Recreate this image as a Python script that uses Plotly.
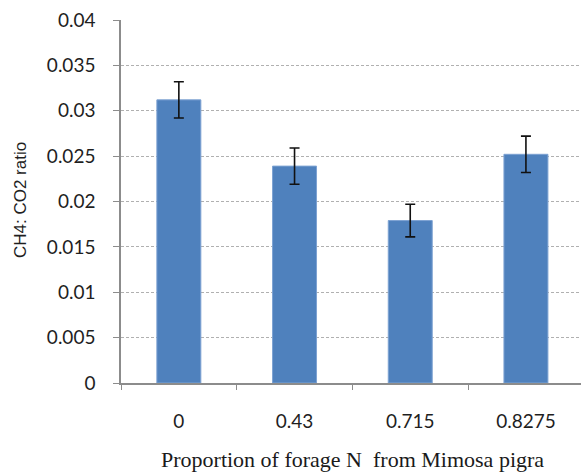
import plotly.graph_objects as go

# Methane to CO2 ratio by proportion of forage N supplied by Mimosa pigra
categories = ["0", "0.43", "0.715", "0.8275"]
ratio_mean = [0.0312, 0.0239, 0.0179, 0.0252]
ratio_err = [0.0020, 0.0020, 0.0018, 0.0020]
y_ticks = [0, 0.005, 0.01, 0.015, 0.02, 0.025, 0.03, 0.035, 0.04]
y_tick_text = ["0", "0.005", "0.01", "0.015", "0.02", "0.025", "0.03", "0.035", "0.04"]

fig = go.Figure(
    go.Bar(
        x=categories,
        y=ratio_mean,
        width=0.38,
        marker=dict(color="#4F81BD", line=dict(color="#7DA2D2", width=1)),
        error_y=dict(type="data", array=ratio_err, visible=True,
                     color="#111111", thickness=1.6, width=5),
    )
)

tick_font = dict(family="Lato, Open Sans, sans-serif", size=19, color="#1f1f1f")

fig.update_layout(
    width=581,
    height=473,
    margin=dict(l=121, r=0, t=20, b=90),
    paper_bgcolor="white",
    plot_bgcolor="white",
    showlegend=False,
    xaxis=dict(
        type="category",
        range=[-0.5, 3.476],
        showgrid=False,
        showline=True,
        linecolor="#8c8c8c",
        linewidth=1.5,
        ticks="outside",
        tickson="boundaries",
        ticklen=5,
        tickcolor="#8c8c8c",
        tickfont=tick_font,
        ticklabelstandoff=20,
        fixedrange=True,
    ),
    yaxis=dict(
        range=[0, 0.04],
        tickvals=y_ticks,
        ticktext=y_tick_text,
        showgrid=True,
        gridcolor="#b0b0b0",
        griddash="3px,2px",
        gridwidth=1,
        showline=True,
        linecolor="#8c8c8c",
        linewidth=1.5,
        ticks="outside",
        ticklen=6,
        tickcolor="#8c8c8c",
        tickfont=tick_font,
        ticklabelstandoff=14,
        zeroline=False,
        fixedrange=True,
    ),
    annotations=[
        dict(
            text="CH4: CO2 ratio",
            xref="paper", yref="paper",
            x=-0.2196, y=0.504,
            xanchor="center", yanchor="middle",
            textangle=-90, showarrow=False,
            font=dict(family="Liberation Sans, Arial, sans-serif", size=17, color="#1f1f1f"),
        ),
        dict(
            text="Proportion of forage N  from Mimosa pigra",
            xref="paper", yref="paper",
            x=0.504, y=-0.212,
            xanchor="center", yanchor="middle",
            showarrow=False,
            font=dict(family="Liberation Serif, Times New Roman, serif", size=22, color="#1a1a1a"),
        ),
    ],
)

fig.write_html("out.html")
